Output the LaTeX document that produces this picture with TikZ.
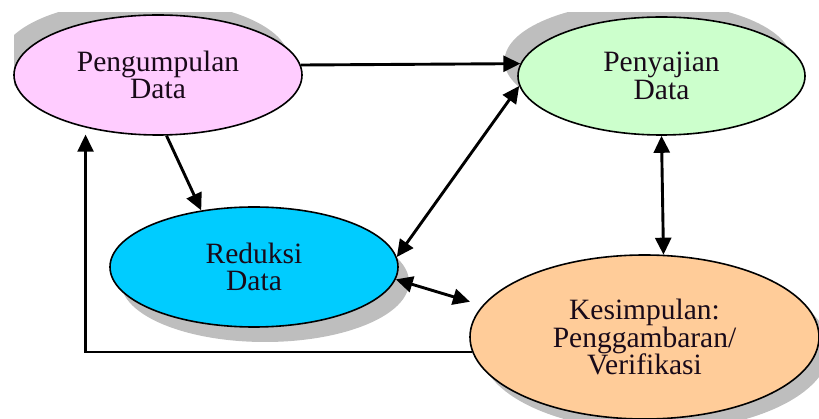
\documentclass[tikz,border=0pt]{standalone}
\usepackage{fontspec}
\setmainfont{Liberation Serif}
\usetikzlibrary{arrows.meta,shapes.geometric}
\definecolor{shadowgray}{RGB}{190,190,190}
\definecolor{pinkfill}{RGB}{255,204,255}
\definecolor{greenfill}{RGB}{204,255,204}
\definecolor{cyanfill}{RGB}{0,204,255}
\definecolor{peachfill}{RGB}{255,204,153}
\definecolor{inktext}{RGB}{25,10,25}
\tikzset{
  bubble/.style={ellipse, draw=black, line width=1.6pt, inner sep=0pt,
    align=center, font=\fontsize{29.5}{27.5}\selectfont, text=inktext},
  tip/.style={Triangle[length=17pt,width=16pt]},
  arr/.style={line width=2.9pt, -{Triangle[length=17pt,width=16pt]}},
  darr/.style={line width=2.9pt, {Triangle[length=17pt,width=16pt]}-{Triangle[length=17pt,width=16pt]}},
  backarr/.style={line width=2.2pt, -{Triangle[length=17pt,width=16pt]}}
}
\begin{document}
\begin{tikzpicture}[x=1pt,y=-1pt]
\useasboundingbox (0,0) rectangle (819,419);
% shadows
\begin{scope}
\clip (14,13) rectangle (819,419);
\fill[shadowgray] (145,60) ellipse [x radius=144pt, y radius=60pt];
\fill[shadowgray] (648,61) ellipse [x radius=143.5pt, y radius=59pt];
\fill[shadowgray] (265,282) ellipse [x radius=144pt, y radius=60pt];
\fill[shadowgray] (655,349) ellipse [x radius=174.5pt, y radius=82pt];
\end{scope}
% nodes
\node[bubble, fill=pinkfill, minimum width=288pt, minimum height=120pt] (peng) at (158,75) {Pengumpulan\\Data};
\node[bubble, fill=greenfill, minimum width=287pt, minimum height=118pt] (peny) at (661.5,76) {Penyajian\\Data};
\node[bubble, fill=cyanfill, minimum width=288pt, minimum height=120pt] (red) at (254,267) {Reduksi\\Data};
\node[bubble, fill=peachfill, minimum width=349pt, minimum height=164pt] (kes) at (644.5,337) {Kesimpulan:\\Penggambaran/\\Verifikasi};
% connectors
\draw[arr] (peng.4) -- (peny.175.5);
\draw[arr] (peng.-82.4) -- (red.133.6);
\draw[darr] (peny.184.9) -- (red.4.9);
\draw[darr] (peny.south) -- (kes.77.9);
\draw[darr, shorten >=13pt] (red.-5.3) -- (kes.169.5);
\draw[backarr, shorten >=7pt] (kes.-175) -| (peng.-144.2);
\end{tikzpicture}
\end{document}
